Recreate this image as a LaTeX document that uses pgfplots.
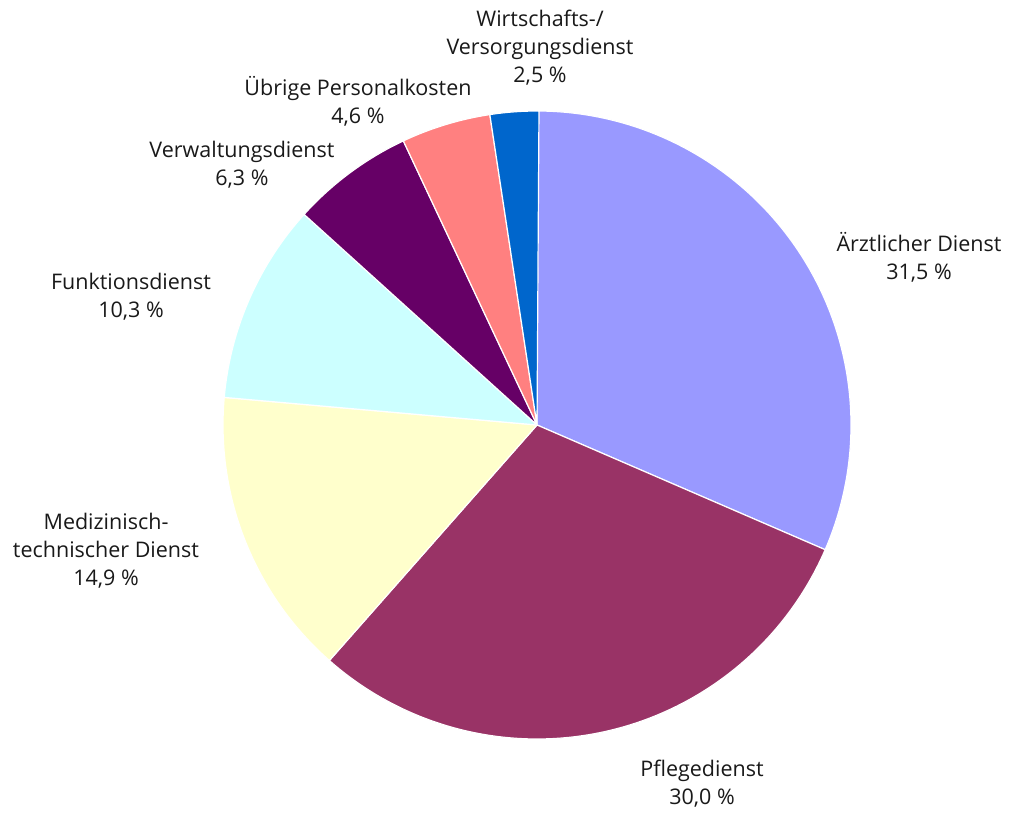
\documentclass[border=0pt]{standalone}
\usepackage{pgfplots}
\pgfplotsset{compat=1.18}
\usepackage{fontspec}
\setmainfont{Open Sans}
\definecolor{c1}{HTML}{9999FF}
\definecolor{c2}{HTML}{993366}
\definecolor{c3}{HTML}{FFFFCC}
\definecolor{c4}{HTML}{CCFFFF}
\definecolor{c5}{HTML}{660066}
\definecolor{c6}{HTML}{FF8080}
\definecolor{c7}{HTML}{0066CC}
\newcommand{\cx}{537}
\newcommand{\cy}{387}
\newcommand{\R}{314}
\begin{document}
\begin{tikzpicture}
\begin{axis}[x=1pt,y=1pt,xmin=0,xmax=1011,ymin=0,ymax=812,
  scale only axis, hide axis, clip=false]
\path (axis cs:0,0) rectangle (axis cs:1011,812);
\gdef\angA{90}
\pgfplotsforeachungrouped \p/\c in {31.5/c1,30.0/c2,14.9/c3,10.3/c4,6.3/c5,4.6/c6,2.5/c7}{%
  \pgfmathsetmacro\angB{\angA-3.6*\p}%
  \pgfmathsetmacro\sx{\cx+\R*cos(\angA)}%
  \pgfmathsetmacro\sy{\cy+\R*sin(\angA)}%
  \edef\temp{\noexpand\fill[fill=\c, draw=white, line width=1.2pt, line join=round]
    (axis cs:\cx,\cy) -- (axis cs:\sx,\sy) arc[start angle=\angA, end angle=\angB, radius=\R] -- cycle;}%
  \temp
  \global\let\angA\angB
}
\tikzset{lbl/.style={align=center, text=black!90, font=\fontsize{21.5pt}{28pt}\selectfont}}
\node[lbl] at (axis cs:919,555) {Ärztlicher Dienst\\31,5 \%};
\node[lbl] at (axis cs:702,28) {Pflegedienst\\30,0 \%};
\node[lbl] at (axis cs:106,261) {Medizinisch-\\technischer Dienst\\14,9 \%};
\node[lbl] at (axis cs:131,515) {Funktionsdienst\\10,3 \%};
\node[lbl] at (axis cs:242,647) {Verwaltungsdienst\\6,3 \%};
\node[lbl] at (axis cs:358,711) {Übrige Personalkosten\\4,6 \%};
\node[lbl] at (axis cs:540,764) {Wirtschafts-/\\Versorgungsdienst\\2,5 \%};
\end{axis}
\end{tikzpicture}
\end{document}
